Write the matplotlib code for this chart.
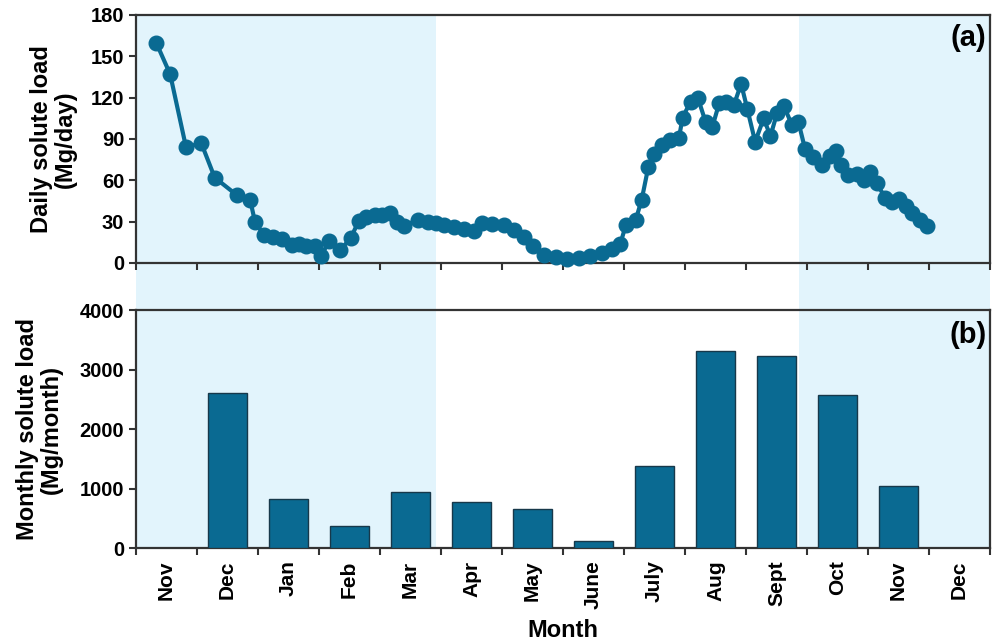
import numpy as np
import matplotlib
matplotlib.use("Agg")
import matplotlib.pyplot as plt
from matplotlib.patches import Rectangle
from matplotlib.transforms import blended_transform_factory

plt.rcParams['font.family'] = ['Liberation Sans', 'DejaVu Sans']
plt.rcParams['font.weight'] = 'bold'

# Month categories (Nov of year 1 through Dec of year 2)
months = ["Nov", "Dec", "Jan", "Feb", "Mar", "Apr", "May", "June",
          "July", "Aug", "Sept", "Oct", "Nov", "Dec"]

# Monthly solute load (Mg/month); no data for first Nov and last Dec
monthly_load = [np.nan, 2600, 820, 370, 945, 775, 650, 125,
                1375, 3310, 3220, 2575, 1045, np.nan]

# Daily solute load: sampling time (in months since 1 Nov) and load (Mg/day)
daily_time = [0.33, 0.56, 0.82, 1.07, 1.29, 1.66, 1.87, 1.95, 2.10, 2.25,
              2.40, 2.55, 2.68, 2.79, 2.93, 3.03, 3.17, 3.35, 3.52, 3.65,
              3.77, 3.91, 4.03, 4.17, 4.28, 4.40, 4.62, 4.78, 4.92, 5.05,
              5.22, 5.38, 5.54, 5.68, 5.84, 6.04, 6.20, 6.36, 6.50, 6.69,
              6.88, 7.07, 7.26, 7.45, 7.64, 7.81, 7.94, 8.03, 8.19, 8.29,
              8.40, 8.49, 8.62, 8.76, 8.90, 8.96, 9.09, 9.21, 9.34, 9.45,
              9.56, 9.68, 9.80, 9.92, 10.02, 10.15, 10.29, 10.40, 10.51, 10.62,
              10.75, 10.86, 10.97, 11.10, 11.24, 11.38, 11.48, 11.55, 11.68, 11.82,
              11.93, 12.03, 12.14, 12.28, 12.39, 12.50, 12.62, 12.72, 12.85, 12.96]
daily_load = [160, 137, 84, 87, 62, 49, 46, 30, 20, 19,
              17.5, 13, 14, 12.6, 12, 5, 16, 9.5, 18, 30.5,
              33.5, 34.5, 34.5, 36.5, 30, 27, 31.5, 30, 29, 27.5,
              26, 25, 23.5, 29, 28.5, 27.5, 24, 18.5, 12, 5.5,
              4, 2.7, 3.4, 5, 7.5, 10.5, 14, 27.5, 31, 46,
              70, 79, 85.5, 89, 90.5, 105.5, 117, 120, 102, 99,
              116, 116.5, 114.5, 130, 112, 88, 105, 92, 109, 114,
              100.5, 102, 82.5, 77, 71, 77.5, 81, 71, 63.5, 64.5,
              60.5, 66, 58, 47.5, 44, 46.5, 41, 36, 31.5, 26.5]

# Shaded seasons (in months since 1 Nov)
shade_spans = [(0.0, 4.92), (10.87, 14.0)]

color_main = "#0a6a92"
color_edge = "#17384a"
color_shade = "#e2f4fc"
spine_color = "#333333"

fig = plt.figure(figsize=(9.92, 6.43), dpi=100)
ax1 = fig.add_axes([0.1371, 0.5910, 0.8609, 0.3857])
ax2 = fig.add_axes([0.1371, 0.1477, 0.8609, 0.3701])

n = len(months)
for ax in (ax1, ax2):
    ax.set_facecolor("none")
    ax.set_xlim(0, n)
    ax.set_xticks(np.arange(n + 1))
    ax.tick_params(axis="both", direction="out", width=1.5, length=5,
                   color=spine_color, labelsize=14.5)
    for s in ax.spines.values():
        s.set_linewidth(1.6)
        s.set_color(spine_color)

# Background shading spanning both panels and the gap between them
trans = blended_transform_factory(ax2.transData, fig.transFigure)
y0 = ax2.get_position().y0
y1 = ax1.get_position().y1
for a, b in shade_spans:
    fig.add_artist(Rectangle((a, y0), b - a, y1 - y0, transform=trans,
                             facecolor=color_shade, edgecolor="none", zorder=-1))

# (a) daily load
ax1.plot(daily_time, daily_load, "-o", color=color_main, lw=3.0,
         markersize=10.5, clip_on=False, zorder=3)
ax1.set_ylim(0, 180)
ax1.set_yticks(np.arange(0, 181, 30))
ax1.set_xticklabels([])
ax1.set_ylabel("Daily solute load\n(Mg/day)", fontsize=17, fontweight="bold",
               linespacing=1.05)
ax1.yaxis.set_label_coords(-0.069, 0.5)
ax1.text(0.996, 0.965, "(a)", transform=ax1.transAxes, ha="right", va="top",
         fontsize=21, fontweight="bold")

# (b) monthly load
centers = np.arange(n) + 0.5
vals = np.array(monthly_load, dtype=float)
ok = np.isfinite(vals)
ax2.bar(centers[ok], vals[ok], width=0.65, color=color_main,
        edgecolor=color_edge, linewidth=1.0, zorder=3)
ax2.set_ylim(0, 4000)
ax2.set_yticks(np.arange(0, 4001, 1000))
ax2.set_xticklabels([])
ax2.set_xticks(centers, minor=True)
ax2.set_xticklabels(months, minor=True, rotation=90, fontsize=15,
                    fontweight="bold")
ax2.tick_params(axis="x", which="minor", length=0, pad=9)
ax2.set_ylabel("Monthly solute load\n(Mg/month)", fontsize=17,
               fontweight="bold", linespacing=1.05)
ax2.yaxis.set_label_coords(-0.086, 0.5)
ax2.set_xlabel("Month", fontsize=17, fontweight="bold")
ax2.xaxis.set_label_coords(0.5, -0.298)
ax2.text(0.996, 0.955, "(b)", transform=ax2.transAxes, ha="right", va="top",
         fontsize=21, fontweight="bold")

for ax in (ax1, ax2):
    for lab in ax.get_yticklabels():
        lab.set_fontweight("bold")

fig.savefig("out.png", dpi=100)
